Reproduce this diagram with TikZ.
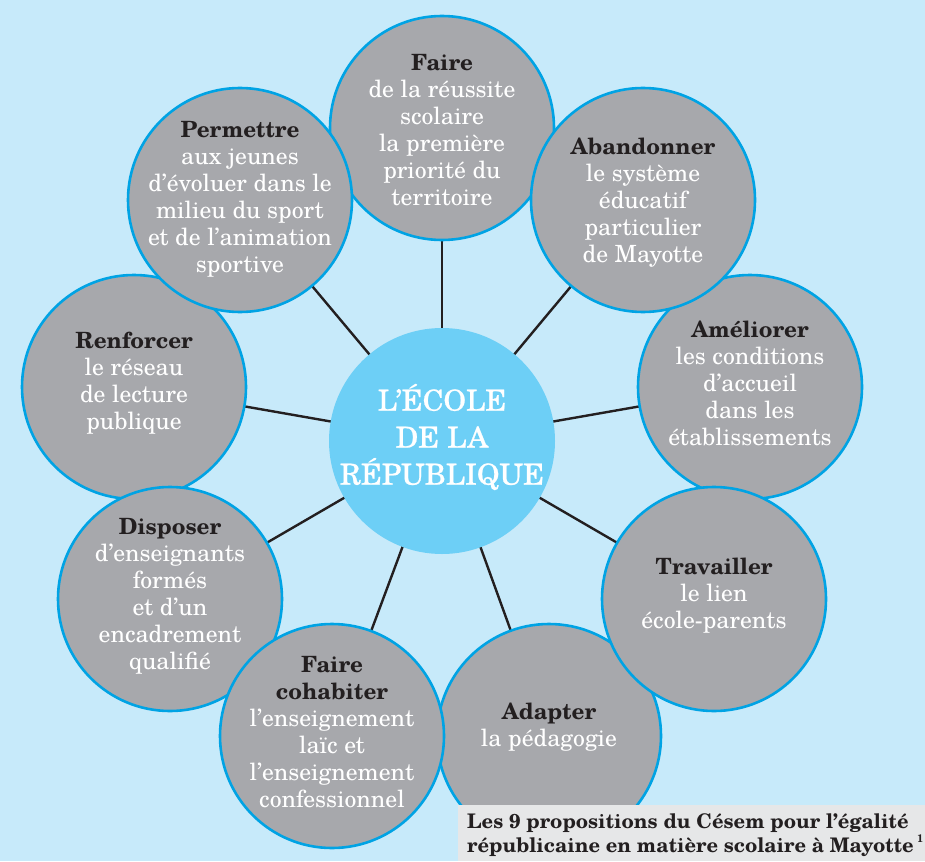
\documentclass[tikz,border=0pt]{standalone}
\usepackage{fontspec}
\setmainfont{texgyreschola}[Extension=.otf,UprightFont=*-regular,BoldFont=*-bold,ItalicFont=*-italic,BoldItalicFont=*-bolditalic]
\newfontfamily\hubfont{texgyreschola}[Extension=.otf,UprightFont=*-regular,BoldFont=*-bold,FakeBold=0.8]
\definecolor{bgblue}{RGB}{199,234,250}
\definecolor{bubblegray}{RGB}{167,168,172}
\definecolor{rimblue}{RGB}{0,163,228}
\definecolor{centerblue}{RGB}{109,207,246}
\definecolor{inkdark}{RGB}{35,31,32}
\definecolor{captiongray}{RGB}{230,231,232}
\pgfdeclarelayer{bglayer}
\pgfdeclarelayer{linelayer}
\pgfsetlayers{bglayer,linelayer,main}
\tikzset{
  bubble/.style={circle,draw=rimblue,line width=2.6pt,fill=bubblegray,minimum size=224pt,inner sep=0pt},
  hub/.style={circle,fill=centerblue,minimum size=226pt,inner sep=0pt},
  bubbletext/.style={align=center,text=white,font=\fontsize{23.7}{27}\selectfont,inner sep=0pt},
  hubtext/.style={align=center,text=white,font=\hubfont\fontsize{29}{37}\selectfont,inner sep=0pt},
  spoke/.style={draw=inkdark,line width=2.4pt},
  captiontext/.style={align=left,text=inkdark,font=\bfseries\fontsize{20.1}{24.5}\selectfont,inner sep=0pt,anchor=north west}
}
\newcommand{\hd}[1]{{\bfseries\fontsize{22.4}{27}\selectfont\textcolor{inkdark}{#1}}}
\begin{document}
\begin{tikzpicture}[x=1pt,y=-1pt]
\begin{pgfonlayer}{bglayer}
\fill[bgblue] (0,0) rectangle (925,861);
\end{pgfonlayer}
\useasboundingbox (0,0) rectangle (925,861);
% hub
\node[hub] (hub) at (442,441) {};
\node[hubtext] (hubt) at (442,437) {L’ÉCOLE\\DE LA\\RÉPUBLIQUE};
% bottom layer bubbles
\node[bubble] (faire) at (442,128) {};
\node[bubble] (renforcer) at (134,387) {};
\node[bubble] (ameliorer) at (750,387) {};
\node[bubble] (adapter) at (549,736) {};
% upper layer bubbles
\node[bubble] (permettre) at (240,200) {};
\node[bubble] (abandonner) at (643,200) {};
\node[bubble] (disposer) at (170,599) {};
\node[bubble] (travailler) at (714,599) {};
\node[bubble] (cohabiter) at (332,736) {};
% spokes
\begin{pgfonlayer}{linelayer}
\foreach \n in {faire,permettre,abandonner,renforcer,ameliorer,disposer,travailler,cohabiter,adapter}
  \draw[spoke] (hub.center) -- (\n.center);
\end{pgfonlayer}
% texts
\node[bubbletext] (tfaire) at (442,130) {\hd{Faire}\\de la réussite\\scolaire\\la première\\priorité du\\territoire};
\node[bubbletext] (tpermettre) at (240,199) {\hd{Permettre}\\aux jeunes\\d’évoluer dans le\\milieu du sport\\et de l’animation\\sportive};
\node[bubbletext] (tabandonner) at (643,203) {\hd{Abandonner}\\le système\\éducatif\\particulier\\de Mayotte};
\node[bubbletext] (trenforcer) at (134,383) {\hd{Renforcer}\\le réseau\\de lecture\\publique};
\node[bubbletext] (tameliorer) at (750,383) {\hd{Améliorer}\\les conditions\\d’accueil\\dans les\\établissements};
\node[bubbletext] (tdisposer) at (170,596) {\hd{Disposer}\\d’enseignants\\formés\\et d’un\\encadrement\\qualifié};
\node[bubbletext] (ttravailler) at (714,596) {\hd{Travailler}\\le lien\\école-parents};
\node[bubbletext] (tcohabiter) at (332,732) {\hd{Faire}\\\hd{cohabiter}\\l’enseignement\\laïc et\\l’enseignement\\confessionnel};
\node[bubbletext] (tadapter) at (549,727) {\hd{Adapter}\\la pédagogie};
% caption
\fill[captiongray] (458,805) rectangle (925,861);
\node[captiontext] (caption) at (467,813) {Les 9 propositions du Césem pour l’égalité\\républicaine en matière scolaire à Mayotte\,\raisebox{0.5em}{\fontsize{11}{11}\selectfont 1}};
\end{tikzpicture}
\end{document}
